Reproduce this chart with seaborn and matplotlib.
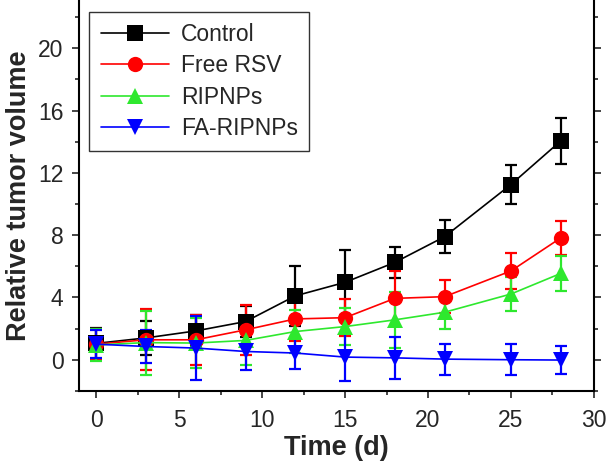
import pandas as pd
import seaborn as sns
import matplotlib.pyplot as plt
from matplotlib.ticker import MultipleLocator

days = [0, 3, 6, 9, 12, 15, 18, 21, 25, 28]

control = [1.05, 1.4, 1.85, 2.45, 4.1, 4.97, 6.25, 7.9, 11.25, 14.05]
control_err = [1.0, 1.1, 1.0, 1.0, 1.95, 2.1, 0.98, 1.05, 1.23, 1.45]

free_rsv = [1.0, 1.28, 1.28, 1.92, 2.62, 2.7, 3.94, 4.05, 5.7, 7.82]
free_rsv_err = [1.0, 1.95, 1.6, 1.6, 1.4, 1.2, 1.75, 1.07, 1.17, 1.07]

ripnps = [0.95, 1.1, 1.07, 1.24, 1.81, 2.13, 2.56, 3.05, 4.22, 5.54]
ripnps_err = [1.0, 2.05, 1.6, 1.6, 1.4, 1.2, 1.8, 1.05, 1.12, 1.1]

fa_ripnps = [1.0, 0.85, 0.75, 0.53, 0.43, 0.17, 0.12, 0.04, 0.0, -0.02]
fa_ripnps_err = [0.9, 1.05, 2.05, 1.2, 1.0, 1.55, 1.35, 1.0, 1.0, 0.88]

groups = ["Control", "Free RSV", "RIPNPs", "FA-RIPNPs"]
colors = ["black", "#ff0000", "#2ee82e", "#0000ff"]
markers = ["s", "o", "^", "v"]

df = pd.DataFrame({
    "day": days * 4,
    "value": control + free_rsv + ripnps + fa_ripnps,
    "err": control_err + free_rsv_err + ripnps_err + fa_ripnps_err,
    "group": [g for g in groups for _ in days],
})

sns.set_style("ticks")
plt.rcParams["font.family"] = ["Liberation Sans", "DejaVu Sans"]

fig = plt.figure(figsize=(6.06, 4.67), dpi=100)
ax = fig.add_axes([0.130, 0.163, 0.850, 0.837])

# error bars first, then lines + markers on top
for g, c in zip(groups, colors):
    sub = df[df["group"] == g]
    ax.errorbar(sub["day"], sub["value"], yerr=sub["err"], fmt="none",
                ecolor=c, elinewidth=1.6, capsize=4.5, capthick=1.6, zorder=2)

sns.lineplot(data=df, x="day", y="value", hue="group", style="group",
             hue_order=groups, style_order=groups, palette=colors,
             markers=markers, dashes=False, markersize=11, linewidth=1.2,
             markeredgewidth=0, ax=ax, zorder=3)

ax.set_xlim(-1.05, 30)
ax.set_ylim(-2.0, 23.1)
ax.xaxis.set_major_locator(MultipleLocator(5))
ax.xaxis.set_minor_locator(MultipleLocator(2.5))
ax.yaxis.set_major_locator(MultipleLocator(4))
ax.yaxis.set_minor_locator(MultipleLocator(2))
ax.set_yticks([0, 4, 8, 12, 16, 20])

ax.tick_params(axis="both", which="major", labelsize=16.5, length=5, width=1.2,
               direction="out", pad=6)
ax.tick_params(axis="x", which="major", pad=8)
ax.tick_params(axis="both", which="minor", length=3, width=1.2, direction="out")
ax.tick_params(axis="y", which="both", right=True, labelright=False)

for side in ["left", "bottom", "right"]:
    ax.spines[side].set_linewidth(1.5)
    ax.spines[side].set_color("black")
ax.spines["top"].set_visible(False)

ax.set_xlabel("Time (d)", fontsize=19.5, fontweight="bold", labelpad=2)
ax.set_ylabel("Relative tumor volume", fontsize=19.5, fontweight="bold", labelpad=4)

leg = ax.legend(loc="upper left", bbox_to_anchor=(0.007, 0.988), fontsize=16.5,
                handlelength=3.0, frameon=True, fancybox=False, borderpad=0.5,
                labelspacing=0.36, handletextpad=0.5, borderaxespad=0.3)
leg.get_frame().set_edgecolor("black")
leg.get_frame().set_linewidth(1.0)
for h in leg.legend_handles:
    h.set_markersize(11)

fig.savefig("out.png", dpi=100)
